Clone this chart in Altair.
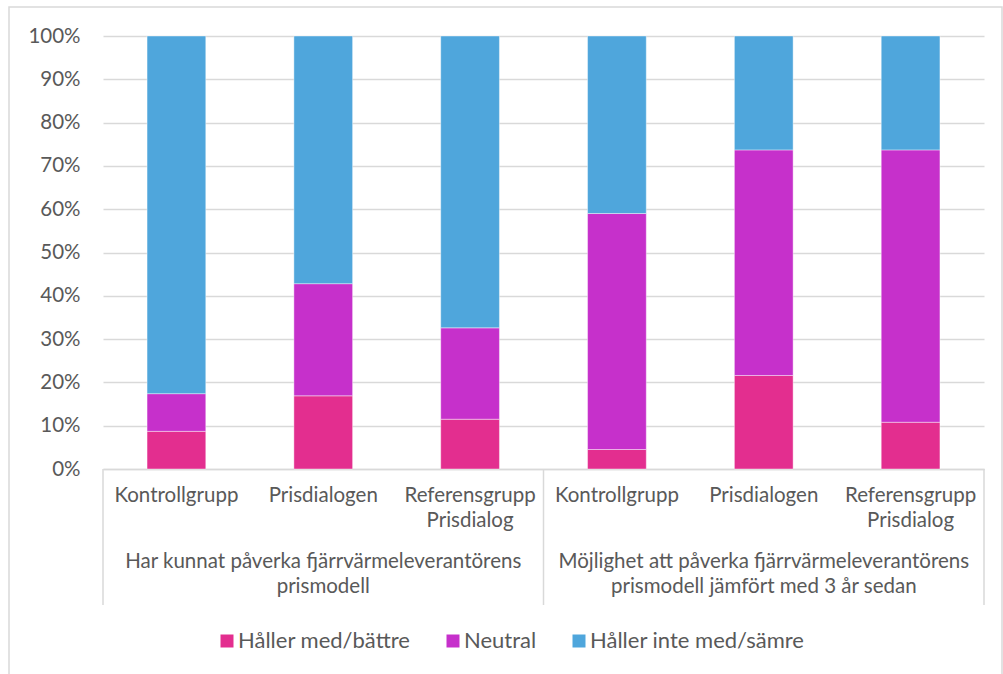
import altair as alt
import pandas as pd

# ---- data ----
ids = ["a1", "a2", "a3", "b1", "b2", "b3"]
cat_labels = ["Kontrollgrupp", "Prisdialogen", "Referensgrupp\nPrisdialog",
              "Kontrollgrupp", "Prisdialogen", "Referensgrupp\nPrisdialog"]
group_ids = ["a2", "b2"]
group_labels = ["Har kunnat påverka fjärrvärmeleverantörens\nprismodell",
                "Möjlighet att påverka fjärrvärmeleverantörens\nprismodell jämfört med 3 år sedan"]
series = ["Håller med/bättre", "Neutral", "Håller inte med/sämre"]
colors = ["#E32E8F", "#C630CB", "#4FA6DC"]
better = [0.087, 0.169, 0.115, 0.045, 0.216, 0.108]
neutral = [0.087, 0.259, 0.211, 0.545, 0.521, 0.629]
worse = [0.826, 0.572, 0.674, 0.410, 0.263, 0.263]
y_ticks = [0, 0.1, 0.2, 0.3, 0.4, 0.5, 0.6, 0.7, 0.8, 0.9, 1.0]

rows = []
for i, cid in enumerate(ids):
    for k, (s, vals) in enumerate(zip(series, [better, neutral, worse])):
        rows.append({"id": cid, "series": s, "order": k, "value": vals[i]})
bars_df = pd.DataFrame(rows)
cats_df = pd.DataFrame({"id": ids, "label": cat_labels})
groups_df = pd.DataFrame({"id": group_ids, "label": group_labels})
one_df = pd.DataFrame({"k": [0]})

FONT = "Lato"
TXT = "#595959"
GRID = "#D9D9D9"
FS = 20.5
W, H = 881, 433

xscale = alt.Scale(domain=ids, paddingInner=0.6, paddingOuter=0.3)
xaxis = alt.Axis(labels=False, ticks=False, title=None, domainColor=GRID,
                 domainWidth=1.5, grid=False)

bars = alt.Chart(bars_df).mark_bar(stroke="white", strokeWidth=0.7,
                                   strokeOpacity=0.6).encode(
    x=alt.X("id:N", scale=xscale, axis=xaxis),
    y=alt.Y("value:Q", stack="zero", scale=alt.Scale(domain=[0, 1], nice=False),
            axis=alt.Axis(format=".0%", values=y_ticks, title=None, ticks=False,
                          domain=False, gridColor=GRID, gridWidth=1.5,
                          labelFont=FONT, labelFontSize=FS, labelColor=TXT,
                          labelPadding=23)),
    color=alt.Color("series:N", scale=alt.Scale(domain=series, range=colors),
                    legend=alt.Legend(orient="none", legendX=113, legendY=594,
                                      direction="horizontal", title=None,
                                      symbolType="square", symbolSize=169,
                                      symbolStrokeWidth=0, labelFont=FONT,
                                      labelFontSize=22, labelColor=TXT,
                                      labelLimit=500,
                                      labelOffset=0, columnPadding=31)),
    order=alt.Order("order:Q", sort="ascending"),
)

cat_text = alt.Chart(cats_df).mark_text(
    font=FONT, fontSize=FS, color=TXT, baseline="top", lineBreak="\n",
    lineHeight=25, align="center").encode(
    x=alt.X("id:N", scale=xscale, axis=xaxis),
    y=alt.value(450),
    text="label:N",
)

group_text = alt.Chart(groups_df).mark_text(
    font=FONT, fontSize=FS, color=TXT, baseline="top", lineBreak="\n",
    lineHeight=25, align="center").encode(
    x=alt.X("id:N", scale=xscale, axis=xaxis),
    y=alt.value(516),
    text="label:N",
)

seps = [alt.Chart(one_df).mark_rule(color=GRID, strokeWidth=1.5).encode(
    x=alt.value(xv), y=alt.value(H), y2=alt.value(569)) for xv in [0, W / 2, W]]

border = alt.Chart(one_df).mark_rect(filled=False, stroke=GRID,
                                     strokeWidth=1.5).encode(
    x=alt.value(-94), x2=alt.value(899), y=alt.value(-29), y2=alt.value(660))

chart = alt.layer(border, bars, cat_text, group_text, *seps).properties(
    width=W, height=H,
    autosize=alt.AutoSizeParams(type="none"),
    padding={"left": 103, "top": 36, "right": 19, "bottom": 205},
).configure_view(stroke=None)

chart.save("out.html", embed_options={"renderer": "svg", "actions": False})
